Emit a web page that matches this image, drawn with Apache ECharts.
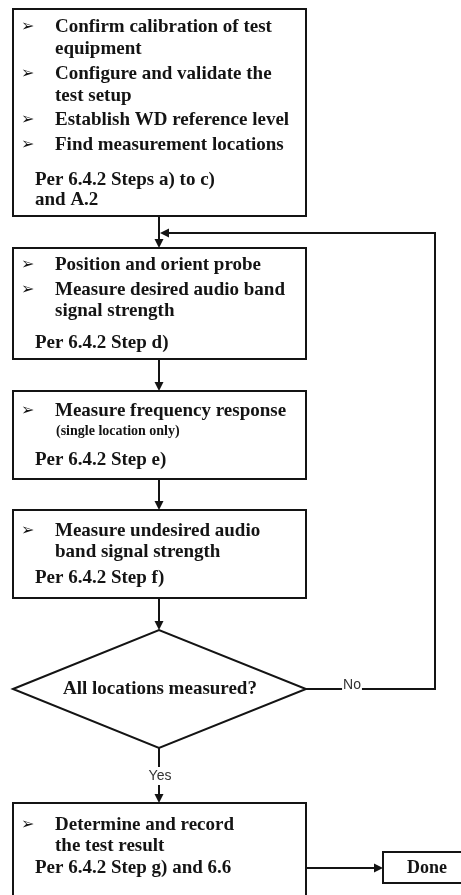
<!DOCTYPE html>
<html>
<head>
<meta charset="utf-8">
<script src="https://cdn.jsdelivr.net/npm/echarts@6/dist/echarts.min.js"></script>
<style>
  html, body { margin: 0; padding: 0; background: #fff; }
  #chart { width: 461px; height: 895px; }
</style>
</head>
<body>
<div id="chart"></div>
<script>
// flowchart content
const stepBullets = [
  [["Confirm calibration of test", "equipment"], ["Configure and validate the", "test setup"], ["Establish WD reference level"], ["Find measurement locations"]],
  [["Position and orient probe"], ["Measure desired audio band", "signal strength"]],
  [["Measure frequency response"]],
  [["Measure undesired audio", "band signal strength"]],
  [["Determine and record", "the test result"]]
]
const stepNotes = [null, null, "(single location only)", null, null]
const stepRefs = [
  ["Per 6.4.2 Steps a) to c)", "and A.2"],
  ["Per 6.4.2 Step d)"],
  ["Per 6.4.2 Step e)"],
  ["Per 6.4.2 Step f)"],
  ["Per 6.4.2 Step g) and 6.6"]
]
const decisionText = "All locations measured?"
const branchLabels = ["Yes", "No"]
const endLabel = "Done"

// layout in pixels
const boxLeft = 13, boxRight = 306, midX = 159, loopX = 435, loopY = 233
const boxLayout = [
  { top: 9, bottom: 216, lineY: [27, 49, 74, 96, 120, 145], refY: [180, 200] },
  { top: 248, bottom: 359, lineY: [265, 290, 311], refY: [343] },
  { top: 391, bottom: 479, lineY: [411], noteY: 431, refY: [460] },
  { top: 510, bottom: 598, lineY: [531, 552], refY: [578] },
  { top: 803, bottom: 910, lineY: [825, 846], refY: [868] }
]
const diamond = { top: 630, bottom: 748, cy: 689 }
const doneBox = { x: 383, y: 852, w: 95, h: 31 }

const ink = "#141414"
const serif = "'Liberation Serif', 'Times New Roman', serif"
const sans = "'Liberation Sans', Arial, sans-serif"

function label(x, y, str, size, align, family, weight, extra) {
  return {
    type: "text", x: x, y: y, z: 10,
    style: Object.assign({
      text: str,
      font: (weight || "bold") + " " + size + "px " + family,
      fill: ink,
      align: align, textAlign: align,
      verticalAlign: "middle", textVerticalAlign: "middle"
    }, extra || {})
  }
}
function line(points, w) {
  return { type: "polyline", z: 2, shape: { points: points }, style: { stroke: ink, lineWidth: w || 2, fill: null } }
}
function head(points) {
  return { type: "polygon", z: 3, shape: { points: points }, style: { fill: ink, stroke: null } }
}
const arrowDown = (x, y) => head([[x - 4.5, y - 9], [x + 4.5, y - 9], [x, y]])
const arrowLeft = (x, y) => head([[x + 9, y - 4.5], [x + 9, y + 4.5], [x, y]])
const arrowRight = (x, y) => head([[x - 9, y - 4.5], [x - 9, y + 4.5], [x, y]])

const elements = []

stepBullets.forEach((bullets, i) => {
  const b = boxLayout[i]
  elements.push({
    type: "rect", z: 1,
    shape: { x: boxLeft, y: b.top, width: boxRight - boxLeft, height: b.bottom - b.top },
    style: { fill: "#fff", stroke: ink, lineWidth: 2 }
  })
  let k = 0
  bullets.forEach(lines => {
    lines.forEach((str, j) => {
      const y = b.lineY[k++]
      if (j === 0) elements.push(label(21, y, "\u27A2", 16, "left", "'DejaVu Sans'", "bold"))
      elements.push(label(55, y, str, 19, "left", serif))
    })
  })
  if (stepNotes[i]) elements.push(label(56, b.noteY, stepNotes[i], 14, "left", serif))
  stepRefs[i].forEach((str, j) => elements.push(label(35, b.refY[j], str, 19, "left", serif)))
})

// connectors between boxes
for (let i = 0; i < 3; i++) {
  elements.push(line([[midX, boxLayout[i].bottom], [midX, boxLayout[i + 1].top - 6]]))
  elements.push(arrowDown(midX, boxLayout[i + 1].top))
}
elements.push(line([[midX, boxLayout[3].bottom], [midX, diamond.top - 6]]))
elements.push(arrowDown(midX, diamond.top))

// decision diamond
elements.push({
  type: "polygon", z: 1,
  shape: { points: [[boxLeft, diamond.cy], [midX, diamond.top], [boxRight, diamond.cy], [midX, diamond.bottom]] },
  style: { fill: "#fff", stroke: ink, lineWidth: 2 }
})
elements.push(label(160, diamond.cy, decisionText, 19, "center", serif))

// yes branch
elements.push(line([[midX, diamond.bottom], [midX, boxLayout[4].top - 6]]))
elements.push(arrowDown(midX, boxLayout[4].top))
elements.push(label(160, 776, branchLabels[0], 14, "center", sans, "normal",
  { backgroundColor: "#fff", padding: [2, 1], fill: "#333" }))

// no branch, loops back above box 2
elements.push(line([[boxRight, diamond.cy], [loopX, diamond.cy], [loopX, loopY], [midX + 6, loopY]]))
elements.push(arrowLeft(midX + 1, loopY))
elements.push(label(352, 685, branchLabels[1], 14, "center", sans, "normal",
  { backgroundColor: "#fff", padding: [0, 1], fill: "#333" }))

// done
elements.push(line([[boxRight, 868], [doneBox.x - 6, 868]]))
elements.push(arrowRight(doneBox.x, 868))
elements.push({
  type: "rect", z: 1,
  shape: { x: doneBox.x, y: doneBox.y, width: doneBox.w, height: doneBox.h },
  style: { fill: "#fff", stroke: ink, lineWidth: 2 }
})
elements.push(label(427, 868, endLabel, 18, "center", serif))

const chart = echarts.init(document.getElementById("chart"), null, { renderer: "canvas" })
chart.setOption({
  animation: false,
  graphic: { elements: elements }
})
</script>
</body>
</html>
